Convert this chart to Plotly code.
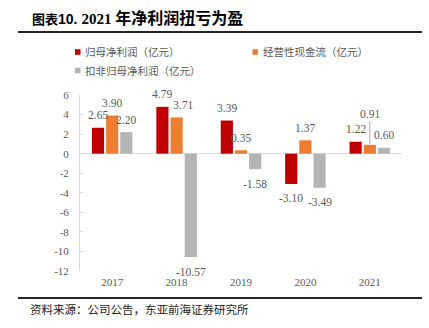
import plotly.graph_objects as go

# Data
years = ["2017", "2018", "2019", "2020", "2021"]
net_profit = [2.65, 4.79, 3.39, -3.10, 1.22]          # 归母净利润（亿元）
op_cash_flow = [3.90, 3.71, 0.35, 1.37, 0.91]         # 经营性现金流（亿元）
net_profit_adj = [2.20, -10.57, -1.58, -3.49, 0.60]   # 扣非归母净利润（亿元）
series_names = ["归母净利润（亿元）", "经营性现金流（亿元）", "扣非归母净利润（亿元）"]
y_tick_vals = [6, 4, 2, 0, -2, -4, -6, -8, -10, -12]
y_tick_text = ["6", "4", "2", "0", "-2", "-4", "-6", "-8", "-10", "-12"]

colors = ["#C00000", "#ED7D31", "#B4B4B4"]
label_color = "#595959"
serif = "Liberation Serif, Times New Roman, serif"
cjk = "Noto Sans CJK SC, sans-serif"

W, H = 429, 328
L, R, T, B = 80, 27, 95, 57
PW, PH = W - L - R, H - T - B


def px(x):
    return (x - L) / PW


def py(y):
    return (H - B - y) / PH


BARGAP, GROUPGAP = 0.34, 0.14
slot = (1 - BARGAP) / 3

fig = go.Figure()
all_series = [net_profit, op_cash_flow, net_profit_adj]
for name, vals, c in zip(series_names, all_series, colors):
    fig.add_trace(go.Bar(x=years, y=vals, name=name, marker_color=c,
                         marker_line_width=0, showlegend=False))

annotations = []
# value labels above / below each bar
label_xshift = {(1, 1): 6}
for j, vals in enumerate(all_series):
    for i, v in enumerate(vals):
        xpos = i + (j - 1) * slot
        text = f"{v:.2f}"
        font = dict(family=serif, size=11.5, color=label_color)
        if (i, j) == (4, 1):
            annotations.append(dict(x=xpos, y=v, xref="x", yref="y", text=text,
                                    showarrow=True, arrowhead=0, arrowwidth=1,
                                    arrowcolor="#A6A6A6", ax=0, ay=-31,
                                    standoff=1, font=font))
            continue
        annotations.append(dict(x=xpos, y=v, xref="x", yref="y", text=text,
                                showarrow=False, yanchor="middle",
                                yshift=12.5 if v >= 0 else -14.5,
                                xshift=label_xshift.get((i, j), 0), font=font))

# legend
legend_items = [(75, 52, 0), (252.5, 52, 1), (75, 70.5, 2)]
shapes = []
for x0, yc, k in legend_items:
    shapes.append(dict(type="rect", xref="paper", yref="paper",
                       x0=px(x0), x1=px(x0 + 5.5), y0=py(yc + 2.8), y1=py(yc - 2.8),
                       fillcolor=colors[k], line_width=0))
    annotations.append(dict(x=px(x0 + 8), y=py(yc), xref="paper", yref="paper",
                            text=series_names[k], showarrow=False, xanchor="left",
                            yanchor="middle",
                            font=dict(family=cjk, size=10.5, color=label_color)))

# title and source
title_text = ("<span style='font-size:13px'>图表</span>"
              "<span style='font-family:Liberation Sans, Arial;font-size:14px'>10. </span>"
              "<span style='font-family:Liberation Serif;font-size:15px'>2021 </span>"
              "年净利润扭亏为盈")
annotations.append(dict(x=px(30), y=py(17), xref="paper", yref="paper",
                        text="<b>" + title_text + "</b>", showarrow=False,
                        xanchor="left", yanchor="middle",
                        font=dict(family=cjk, size=16, color="#000000")))
annotations.append(dict(x=px(28), y=py(308.5), xref="paper", yref="paper",
                        text="资料来源：公司公告，东亚前海证券研究所", showarrow=False,
                        xanchor="left", yanchor="middle",
                        font=dict(family=cjk, size=11.5, color="#1a1a1a")))

for yl in (32, 298):
    shapes.append(dict(type="line", xref="paper", yref="paper",
                       x0=px(18), x1=px(422), y0=py(yl), y1=py(yl),
                       line=dict(color="#262626", width=2)))

fig.update_layout(
    width=W, height=H,
    margin=dict(l=L, r=R, t=T, b=B, pad=0),
    paper_bgcolor="white", plot_bgcolor="white",
    barmode="group", bargap=BARGAP, bargroupgap=GROUPGAP,
    annotations=annotations, shapes=shapes,
    xaxis=dict(type="category", showline=False, showgrid=False,
               ticks="outside", ticklen=1, tickcolor="rgba(0,0,0,0)",
               tickfont=dict(family=serif, size=11, color=label_color)),
    yaxis=dict(range=[-12, 6], tickvals=y_tick_vals, ticktext=y_tick_text,
               showgrid=False, showline=True, linecolor="#D9D9D9", linewidth=1,
               ticks="inside", ticklen=3, tickcolor="#D9D9D9",
               zeroline=True, zerolinecolor="#D9D9D9", zerolinewidth=1,
               ticklabelstandoff=8,
               tickfont=dict(family=serif, size=11, color=label_color)),
    font=dict(family=cjk),
)

fig.write_html("out.html")
